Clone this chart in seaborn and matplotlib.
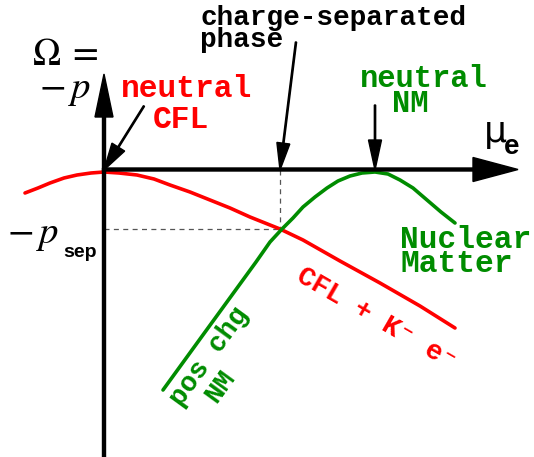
import matplotlib
matplotlib.use("Agg")
import matplotlib.pyplot as plt
import seaborn as sns
import pandas as pd

# Free energy Omega = -p versus electron chemical potential mu_e (schematic)
cfl_mu = [-0.79, -0.66, -0.54, -0.40, -0.27, -0.13, 0.00, 0.15, 0.33, 0.50, 0.66,
          0.86, 1.06, 1.26, 1.46, 1.76, 1.99, 2.36, 2.76, 3.16, 3.51]
cfl_omega = [-0.23, -0.18, -0.13, -0.08, -0.05, -0.03, -0.02, -0.03, -0.05, -0.09, -0.15,
             -0.22, -0.30, -0.38, -0.47, -0.59, -0.70, -0.91, -1.13, -1.36, -1.58]

nm_mu = [0.59, 0.96, 1.36, 1.52, 1.66, 1.78, 1.89, 1.99, 2.11, 2.23, 2.34, 2.46,
         2.58, 2.71, 2.84, 2.96, 3.09, 3.23, 3.37, 3.51]
nm_omega = [-2.20, -1.69, -1.14, -0.92, -0.72, -0.59, -0.48, -0.37, -0.27, -0.18, -0.11, -0.06,
            -0.03, -0.02, -0.04, -0.10, -0.18, -0.30, -0.42, -0.53]

mu_sep = 1.76        # crossing point: charge-separated phase
p_sep = 0.59
mu_nm = 2.71         # neutral nuclear matter
mu_cfl = 0.0         # neutral CFL

RED = "#ff0000"
GREEN = "#008c00"

sns.set_theme(style="white")
plt.rcParams["mathtext.fontset"] = "stix"

fig = plt.figure(figsize=(5.34, 4.57), dpi=100)
ax = fig.add_axes([0, 0, 1, 1])
ax.set_xlim(-1.04, 4.30)
ax.set_ylim(-2.87, 1.70)
ax.axis("off")

cfl = pd.DataFrame({"mu": cfl_mu, "omega": cfl_omega})
nm = pd.DataFrame({"mu": nm_mu, "omega": nm_omega})
sns.lineplot(data=cfl, x="mu", y="omega", sort=False, estimator=None,
             color=RED, linewidth=2.6, ax=ax, zorder=3)
sns.lineplot(data=nm, x="mu", y="omega", sort=False, estimator=None,
             color=GREEN, linewidth=2.6, ax=ax, zorder=3)
for line in ax.get_lines():
    line.set_solid_joinstyle("round")

# dashed guides to the crossing point
ax.plot([0, mu_sep], [-p_sep, -p_sep], color="#555555", lw=0.9,
        dashes=(4, 3.5), zorder=2)
ax.plot([mu_sep, mu_sep], [0, -p_sep], color="#555555", lw=0.9,
        dashes=(4, 3.5), zorder=2)

# coordinate axes
ax.arrow(0, -2.87, 0, 3.83, width=0.03, head_width=0.18, head_length=0.43,
         length_includes_head=True, color="black", zorder=4)
ax.arrow(-0.015, 0.005, 4.155, 0, width=0.03, head_width=0.24, head_length=0.45,
         length_includes_head=True, color="black", zorder=4)

# pointer arrows
ax.arrow(0.40, 0.64, mu_cfl - 0.40, -0.64, width=0.013, head_width=0.15,
         head_length=0.27, length_includes_head=True, color="black", zorder=5)
ax.arrow(1.92, 1.28, mu_sep - 1.92, -1.28, width=0.013, head_width=0.13,
         head_length=0.27, length_includes_head=True, color="black", zorder=5)
ax.arrow(mu_nm, 0.65, 0, -0.65, width=0.013, head_width=0.13,
         head_length=0.30, length_includes_head=True, color="black", zorder=5)

mono = ["Liberation Mono", "DejaVu Sans Mono"]

# axis labels
ax.text(-0.72, 1.05, r"$\Omega\;=$", fontsize=27, color="black", ha="left", va="baseline")
ax.text(-0.13, 0.72, r"$-\,p$", fontsize=28, color="black", ha="right", va="baseline")
ax.text(-0.97, -0.73, r"$-\,p$", fontsize=28, color="black", ha="left", va="baseline")
ax.text(-0.41, -0.87, "sep", fontsize=14, fontweight="bold", family="Liberation Sans",
        color="black", ha="left", va="baseline")
ax.text(3.80, 0.28, "μ", fontsize=26, family="DejaVu Sans", color="black",
        ha="left", va="baseline")
ax.text(4.00, 0.16, "e", fontsize=20, fontweight="bold", family="Liberation Sans",
        color="black", ha="left", va="baseline")

# phase labels
ax.text(0.17, 0.73, "neutral", fontsize=22.5, fontweight="bold", family=mono,
        color=RED, ha="left", va="baseline")
ax.text(0.49, 0.42, "CFL", fontsize=22.5, fontweight="bold", family=mono,
        color=RED, ha="left", va="baseline")
ax.text(0.96, 1.45, "charge-separated", fontsize=20, fontweight="bold", family=mono,
        color="black", ha="left", va="baseline")
ax.text(0.96, 1.23, "phase", fontsize=20, fontweight="bold", family=mono,
        color="black", ha="left", va="baseline")
ax.text(2.56, 0.83, "neutral", fontsize=22, fontweight="bold", family=mono,
        color=GREEN, ha="left", va="baseline")
ax.text(2.88, 0.58, "NM", fontsize=22, fontweight="bold", family=mono,
        color=GREEN, ha="left", va="baseline")
ax.text(2.96, -0.78, "Nuclear", fontsize=22.5, fontweight="bold", family=mono,
        color=GREEN, ha="left", va="baseline")
ax.text(2.96, -1.02, "Matter", fontsize=22.5, fontweight="bold", family=mono,
        color=GREEN, ha="left", va="baseline")
ax.text(1.91, -1.10, "CFL + K⁻ e⁻", fontsize=19.7, fontweight="bold", family=mono,
        color=RED, ha="left", va="baseline", rotation=-30, rotation_mode="anchor")
ax.text(1.05, -1.87, "pos chg", fontsize=19.8, fontweight="bold", family=mono,
        color=GREEN, ha="center", va="center", rotation=54, rotation_mode="anchor")
ax.text(1.16, -2.17, "NM", fontsize=19.8, fontweight="bold", family=mono,
        color=GREEN, ha="center", va="center", rotation=54, rotation_mode="anchor")

fig.savefig("out.png", dpi=100)
